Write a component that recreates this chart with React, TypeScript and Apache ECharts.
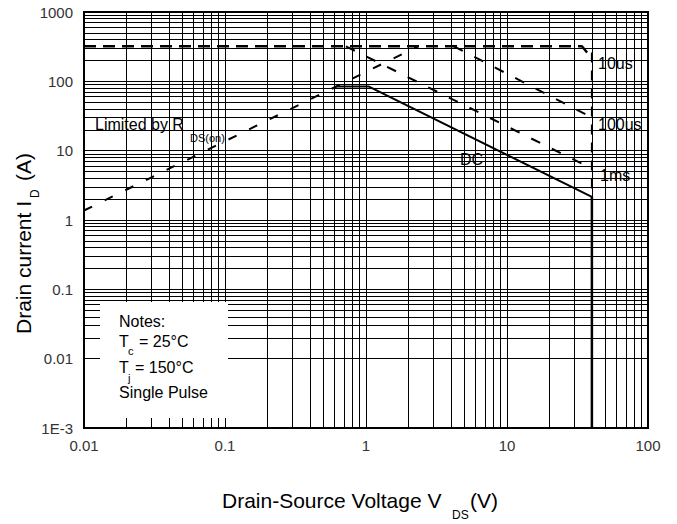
import React, { useEffect, useRef } from "react";
import * as echarts from "echarts";

const FONT = '"Liberation Sans", Arial, Helvetica, sans-serif';

const xTickLabels = ["0.01", "0.1", "1", "10", "100"];
const yTickLabels = ["1E-3", "0.01", "0.1", "1", "10", "100", "1000"];
const gridMultipliers = [1, 2, 3, 4, 5, 6, 7, 8, 9];
const xDecades = [0.01, 0.1, 1, 10];
const yDecades = [0.001, 0.01, 0.1, 1, 10, 100];

// SOA boundary lines: [V_DS (V), I_D (A)]
const limit10us = [[0.01, 320], [34, 320], [40, 215]];
const rdsOnLimit = [[0.01, 1.37], [2.34, 320]];
const pulse100us = [[4.2, 320], [40, 30]];
const pulse1ms = [[0.72, 320], [40, 5.5]];
const dcLine = [[0.61, 84], [1.05, 84], [40, 2.16]];
const vdsMaxDashed = [[40, 260], [40, 2.16]];
const vdsMaxSolid = [[40, 2.16], [40, 0.001]];

const gridX = [...xDecades.flatMap((d) => gridMultipliers.map((m) => d * m)), 100];
const gridY = [...yDecades.flatMap((d) => gridMultipliers.map((m) => d * m)), 1000];

function txt(text: string, x: number, y: number, size: number, extra: any = {}) {
  return {
    type: "text",
    x,
    y,
    z: 101,
    silent: true,
    ...extra,
    style: {
      text,
      fontSize: size,
      fontFamily: FONT,
      fill: "#000",
      textAlign: "left",
      textVerticalAlign: "middle",
      align: "left",
      verticalAlign: "middle",
    },
  };
}

export default function App() {
  const ref = useRef<HTMLDivElement>(null);
  useEffect(() => {
    if (!ref.current) return;
    const chart = echarts.init(ref.current, undefined, { renderer: "svg" });
    const lineBase: any = {
      type: "line",
      symbol: "none",
      showSymbol: false,
      silent: true,
      z: 5,
    };
    const rot = Math.PI / 2;
    chart.setOption({
      animation: false,
      grid: {
        left: 84,
        top: 12,
        right: 29,
        bottom: 96,
        show: true,
        borderColor: "#000",
        borderWidth: 2,
        backgroundColor: "#fff",
        containLabel: false,
        outerBoundsMode: "none",
      },
      xAxis: {
        type: "log",
        logBase: 10,
        min: 0.01,
        max: 100,
        axisLine: { show: false },
        axisTick: { show: false },
        splitLine: { show: false },
        minorTick: { show: false },
        axisLabel: {
          color: "#333",
          fontSize: 15,
          fontFamily: FONT,
          margin: 10,
          showMinLabel: true,
          showMaxLabel: true,
          formatter: (v: number) => xTickLabels[Math.round(Math.log10(v)) + 2] ?? "",
        },
      },
      yAxis: {
        type: "log",
        logBase: 10,
        min: 0.001,
        max: 1000,
        axisLine: { show: false },
        axisTick: { show: false },
        splitLine: { show: false },
        minorTick: { show: false },
        axisLabel: {
          color: "#333",
          fontSize: 15,
          fontFamily: FONT,
          margin: 11,
          padding: [0, 0, 6, 0],
          showMinLabel: true,
          showMaxLabel: true,
          formatter: (v: number) => yTickLabels[Math.round(Math.log10(v)) + 3] ?? "",
        },
      },
      series: [
        {
          type: "line",
          data: [[0.01, 0.001]],
          symbol: "none",
          showSymbol: false,
          lineStyle: { opacity: 0 },
          silent: true,
          z: 1,
          markLine: {
            silent: true,
            animation: false,
            symbol: ["none", "none"],
            label: { show: false },
            emphasis: { disabled: true },
            lineStyle: { color: "#000", width: 1, type: "solid" },
            data: [
              ...gridX.map((v) => ({ xAxis: v })),
              ...gridY.map((v) => ({ yAxis: v })),
            ],
          },
        },
        { ...lineBase, name: "10us", data: limit10us, lineStyle: { color: "#000", width: 2.5, type: [12, 7] } },
        { ...lineBase, name: "RDS(on)", data: rdsOnLimit, lineStyle: { color: "#000", width: 2, type: [9, 14] } },
        { ...lineBase, name: "100us", data: pulse100us, lineStyle: { color: "#000", width: 2, type: [10, 13] } },
        { ...lineBase, name: "1ms", data: pulse1ms, lineStyle: { color: "#000", width: 2, type: [10, 13] } },
        { ...lineBase, name: "DC", data: dcLine, lineStyle: { color: "#000", width: 2, type: "solid" } },
        { ...lineBase, name: "VdsMaxDashed", data: vdsMaxDashed, lineStyle: { color: "#000", width: 2, type: [10, 8] } },
        { ...lineBase, name: "VdsMaxSolid", data: vdsMaxSolid, lineStyle: { color: "#000", width: 2.5, type: "solid" } },
      ],
      graphic: [
        {
          type: "rect",
          z: 100,
          silent: true,
          shape: { x: 100, y: 302, width: 128, height: 116 },
          style: { fill: "#fff" },
        },
        txt("Notes:", 119, 321, 16),
        txt("T", 119, 341, 16),
        txt("c", 128, 351, 11),
        txt("= 25°C", 139, 341, 16),
        txt("T", 119, 367, 16),
        txt("j", 128, 378, 11),
        txt("= 150°C", 135, 367, 16),
        txt("Single Pulse", 119, 392, 16),
        txt("Limited by R", 95, 124, 16),
        txt("DS(on)", 190, 138, 11),
        txt("10us", 598, 63, 16),
        txt("100us", 598, 124, 16),
        txt("1ms", 600, 175, 16),
        txt("DC", 460, 159, 16),
        txt("Drain-Source Voltage V", 222, 500, 21),
        txt("DS", 452, 515, 12),
        txt("(V)", 470, 500, 21),
        txt("Drain current I", 23, 334, 21, { rotation: rot }),
        txt("D", 35, 198, 12, { rotation: rot }),
        txt("(A)", 23, 181, 21, { rotation: rot }),
      ],
    });
    return () => chart.dispose();
  }, []);
  return (
    <div
      ref={ref}
      style={{ position: "fixed", left: 0, top: 0, width: 677, height: 524, background: "#fff" }}
    />
  );
}
